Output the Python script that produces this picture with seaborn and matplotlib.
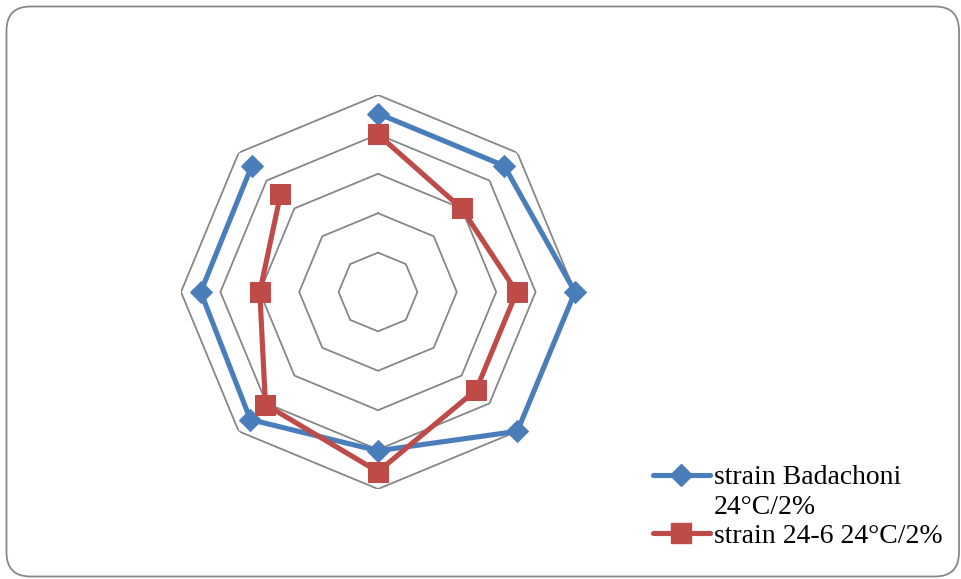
import numpy as np
import pandas as pd
import matplotlib
matplotlib.use("Agg")
import matplotlib.pyplot as plt
from matplotlib.patches import FancyBboxPatch
from matplotlib.lines import Line2D
import seaborn as sns

# values read clockwise from the top axis
badachoni = [4.53, 4.53, 5.0, 5.0, 4.03, 4.58, 4.5, 4.53]
strain_24_6 = [4.0, 3.0, 3.52, 3.52, 4.56, 4.04, 3.0, 3.5]
rings = [1, 2, 3, 4, 5]
series_names = ["strain Badachoni\n24°C/2%", "strain 24-6 24°C/2%"]

BLUE = "#4A7EBB"
RED = "#BE4B48"
GRID = "#878787"

sns.set_style("white")

n = len(badachoni)
theta = np.linspace(0, 2 * np.pi, n, endpoint=False)
theta_closed = np.append(theta, theta[0])

fig = plt.figure(figsize=(9.62, 5.79), dpi=100)

# rounded chart border (inch units so the corners stay round)
border = FancyBboxPatch((0.065, 0.025), 9.525, 5.70,
                        boxstyle="round,pad=0,rounding_size=0.24",
                        transform=fig.dpi_scale_trans, facecolor="none",
                        edgecolor="#888888", linewidth=1.3, zorder=-1)
fig.patches.append(border)

ax = fig.add_axes([181 / 962, 90 / 579, 394 / 962, 394 / 579], projection="polar")
ax.set_theta_offset(np.pi / 2)
ax.set_theta_direction(-1)
ax.patch.set_alpha(0)
ax.spines["polar"].set_visible(False)
ax.grid(False)

for r in rings:
    ax.plot(theta_closed, [r] * (n + 1), color=GRID, lw=1.3, zorder=1)

df_b = pd.DataFrame({"theta": theta_closed, "value": badachoni + badachoni[:1]})
df_r = pd.DataFrame({"theta": theta_closed, "value": strain_24_6 + strain_24_6[:1]})

sns.lineplot(data=df_b, x="theta", y="value", sort=False, ax=ax, color=BLUE,
             lw=3.7, marker="D", markersize=11.5, markeredgecolor=BLUE, zorder=3,
             clip_on=False)
sns.lineplot(data=df_r, x="theta", y="value", sort=False, ax=ax, color=RED,
             lw=3.7, marker="s", markersize=14, markeredgecolor=RED, zorder=4,
             clip_on=False)
ax.set_xlabel("")
ax.set_ylabel("")
ax.set_ylim(0, 5)
ax.set_xticks([])
ax.set_yticks([])

handles = [
    Line2D([], [], color=BLUE, lw=3.7, marker="D", markersize=11.5, markeredgecolor=BLUE),
    Line2D([], [], color="none"),
    Line2D([], [], color=RED, lw=3.7, marker="s", markersize=14, markeredgecolor=RED),
]
labels = series_names[0].split("\n") + [series_names[1]]
leg = fig.legend(handles, labels, loc="upper left", bbox_to_anchor=(653 / 962, 1 - 465 / 579),
                 frameon=False, prop={"family": "Liberation Serif", "size": 20},
                 handlelength=2.05, handletextpad=0.15, labelspacing=0.13,
                 borderpad=0, borderaxespad=0)
for t in leg.get_texts():
    t.set_color("black")

fig.savefig("out.png", dpi=100)
